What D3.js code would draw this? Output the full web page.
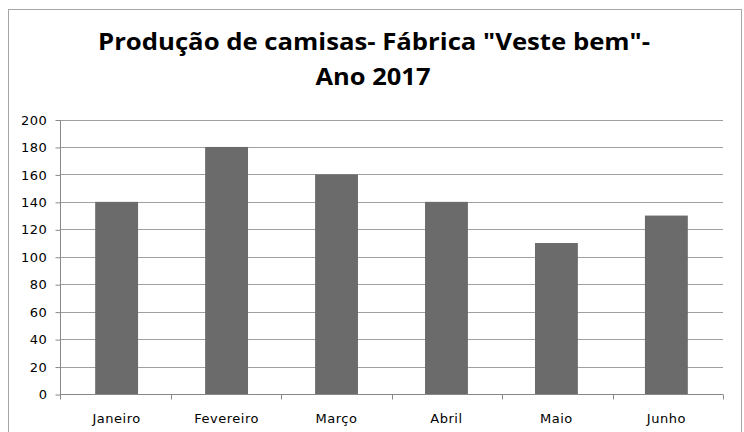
<!DOCTYPE html>
<html><head><meta charset="utf-8">
<script src="https://cdn.jsdelivr.net/npm/d3@7"></script>
<style>body{margin:0;background:#fff}svg{display:block}</style>
</head><body>
<svg id="chart" width="744" height="432"></svg>
<script>
const categories = ["Janeiro","Fevereiro","Março","Abril","Maio","Junho"];
const values = [140,180,160,140,110,130];
const yTicks = [0,20,40,60,80,100,120,140,160,180,200];
const titleLines = ["Produção de camisas- Fábrica \"Veste bem\"-","Ano 2017"];

const svg = d3.select("#chart");
const W = 744, H = 432;
const m = {left:60, right:21, top:119.5, bottom:38};
const labelFont = "DejaVu Sans, Verdana, sans-serif";
svg.append("rect").attr("x",8.5).attr("y",9.5).attr("width",733).attr("height",440)
  .attr("fill","#fff").attr("stroke","#a6a6a6").attr("stroke-width",1);

const x = d3.scaleBand().domain(categories).range([m.left, W-m.right]).paddingInner(0.61).paddingOuter(0.32);
const y = d3.scaleLinear().domain([0,200]).range([H-m.bottom, m.top]);

// gridlines
svg.append("g").selectAll("line").data(yTicks.filter(d=>d>0)).join("line")
  .attr("x1",m.left).attr("x2",W-m.right)
  .attr("y1",d=>Math.round(y(d))+0.5).attr("y2",d=>Math.round(y(d))+0.5)
  .attr("stroke","#a0a0a0").attr("stroke-width",1);

// bars
svg.append("g").selectAll("rect").data(values).join("rect")
  .attr("x",(d,i)=>x(categories[i])).attr("width",x.bandwidth())
  .attr("y",d=>y(d)).attr("height",d=>y(0)-y(d))
  .attr("fill","#6b6b6b");

// y axis
const yAxis = d3.axisLeft(y).tickValues(yTicks).tickSize(5).tickPadding(8);
const gy = svg.append("g").attr("transform",`translate(${m.left+0.5},0.5)`).call(yAxis);
gy.attr("font-family",labelFont).attr("font-size",13);
gy.select(".domain").attr("stroke","#888").attr("d",`M0,${y(200)}V${y(0)}`);
gy.selectAll(".tick line").attr("stroke","#888");
gy.selectAll("text").style("font-family",labelFont).style("font-size","13px").style("letter-spacing","0.6px").attr("fill","#000");

// x axis
const gx = svg.append("g").attr("transform",`translate(0,${Math.round(y(0))+0.5})`);
gx.append("line").attr("x1",m.left).attr("x2",W-m.right).attr("stroke","#888");
const bounds = d3.range(categories.length+1).map(i=>m.left + i*(W-m.left-m.right)/categories.length);
gx.selectAll("line.t").data(bounds).join("line").attr("class","t")
  .attr("x1",d=>Math.round(d)+0.5).attr("x2",d=>Math.round(d)+0.5).attr("y1",0).attr("y2",5).attr("stroke","#888");
gx.selectAll("text").data(categories).join("text")
  .attr("x",d=>x(d)+x.bandwidth()/2).attr("y",28)
  .attr("text-anchor","middle")
  .style("font-family",labelFont).style("font-size","13px").style("letter-spacing","0.5px").attr("fill","#000")
  .text(d=>d);

// title
svg.append("g").selectAll("text").data(titleLines).join("text")
  .attr("x",(d,i)=> i===0 ? 98 : 373).attr("y",(d,i)=>50+i*35)
  .attr("text-anchor",(d,i)=> i===0 ? "start" : "middle")
  .each(function(d,i){ d3.select(this).attr("textLength", i===0 ? 552 : 115).attr("lengthAdjust","spacingAndGlyphs"); })
  .attr("font-family","Open Sans, sans-serif").attr("font-weight","bold").attr("font-size","24px")
  .attr("fill","#000").text(d=>d);
</script>
</body></html>
